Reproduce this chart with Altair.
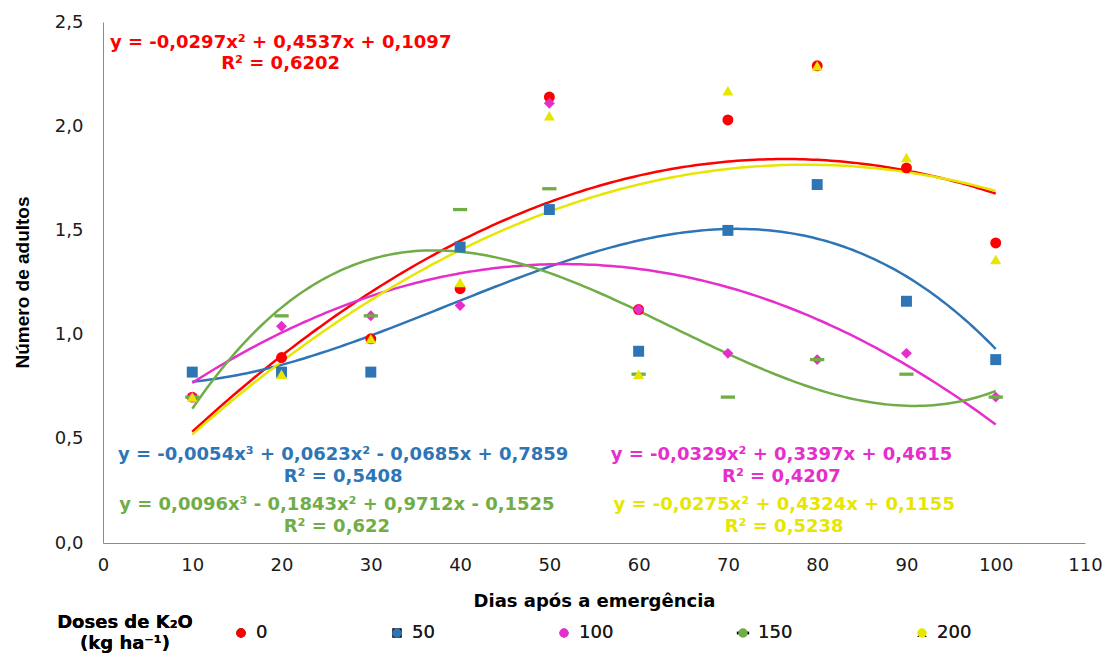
import altair as alt
import numpy as np
import pandas as pd

# Sampling days and potassium doses
dias = [10, 20, 30, 40, 50, 60, 70, 80, 90, 100]
doses = ["0", "50", "100", "150", "200"]

# Mean number of adults per dose
adultos_0 = [0.70, 0.89, 0.98, 1.22, 2.14, 1.12, 2.03, 2.29, 1.80, 1.44]
adultos_50 = [0.82, 0.82, 0.82, 1.42, 1.60, 0.92, 1.50, 1.72, 1.16, 0.88]
adultos_100 = [0.70, 1.04, 1.09, 1.14, 2.11, 1.12, 0.91, 0.88, 0.91, 0.70]
adultos_150 = [0.70, 1.09, 1.09, 1.60, 1.70, 0.81, 0.70, 0.88, 0.81, 0.70]
adultos_200 = [0.70, 0.81, 0.98, 1.25, 2.05, 0.81, 2.17, 2.29, 1.85, 1.36]

# Trendline coefficients (constant term first), x = sampling order 1..10
coef_0 = [0.1097, 0.4537, -0.0297]
coef_50 = [0.7859, -0.0685, 0.0623, -0.0054]
coef_100 = [0.4615, 0.3397, -0.0329]
coef_150 = [-0.1525, 0.9712, -0.1843, 0.0096]
coef_200 = [0.1155, 0.4324, -0.0275]

equacoes = [
    "y = -0,0297x² + 0,4537x + 0,1097",
    "y = -0,0054x³ + 0,0623x² - 0,0685x + 0,7859",
    "y = -0,0329x² + 0,3397x + 0,4615",
    "y = 0,0096x³ - 0,1843x² + 0,9712x - 0,1525",
    "y = -0,0275x² + 0,4324x + 0,1155",
]
r2 = ["R² = 0,6202", "R² = 0,5408", "R² = 0,4207", "R² = 0,622", "R² = 0,5238"]

cores = ["#FF0000", "#2E75B6", "#E52ECC", "#70AD47", "#E6E600"]
formas = [
    "circle",
    "square",
    "diamond",
    "M-1.3,-0.3L1.3,-0.3L1.3,0.3L-1.3,0.3Z",
    "triangle-up",
]

# Where each equation block sits (data coordinates: centre x, first and second line y)
pos_eq = [
    (19.9, 2.40, 2.30),
    (26.9, 0.42, 0.315),
    (76.0, 0.42, 0.315),
    (26.2, 0.18, 0.077),
    (76.3, 0.18, 0.077),
]

FONT = "DejaVu Sans"

series = [adultos_0, adultos_50, adultos_100, adultos_150, adultos_200]
coefs = [coef_0, coef_50, coef_100, coef_150, coef_200]

pontos = pd.DataFrame(
    [
        {"dias": d, "adultos": v, "dose": dose}
        for dose, vals in zip(doses, series)
        for d, v in zip(dias, vals)
    ]
)

t = np.linspace(1, 10, 181)
curvas = pd.concat(
    [
        pd.DataFrame(
            {
                "dias": 10 * t,
                "adultos": sum(c * t**i for i, c in enumerate(cf)),
                "curva": dose,
            }
        )
        for dose, cf in zip(doses, coefs)
    ]
)

x_enc = alt.X(
    "dias:Q",
    scale=alt.Scale(domain=[0, 110], nice=False),
    axis=alt.Axis(
        values=list(range(0, 111, 10)),
        title="Dias após a emergência",
        titleFont=FONT,
        titleFontSize=18,
        titleFontWeight="bold",
        titleColor="#000000",
        titleX=491,
        titleY=58,
        titleBaseline="middle",
        labelFont=FONT,
        labelFontSize=18,
        labelColor="#1a1a1a",
        labelPadding=13,
        labelFlush=False,
        labelOverlap=False,
        ticks=False,
        grid=False,
        domainColor="#8c8c8c",
    ),
)
y_enc = alt.Y(
    "adultos:Q",
    scale=alt.Scale(domain=[0, 2.5], nice=False),
    axis=alt.Axis(
        values=[0, 0.5, 1.0, 1.5, 2.0, 2.5],
        labelExpr="replace(format(datum.value, '.1f'), '.', ',')",
        title="Número de adultos",
        titleFont="Liberation Sans",
        titleFontSize=19,
        titleFontWeight="bold",
        titleColor="#000000",
        titleX=-81,
        titleY=260,
        titleBaseline="middle",
        titleAngle=270,
        labelFont=FONT,
        labelFontSize=18,
        labelColor="#1a1a1a",
        labelPadding=20,
        labelFlush=False,
        labelOverlap=False,
        ticks=False,
        grid=False,
        domainColor="#8c8c8c",
    ),
)

linhas = (
    alt.Chart(curvas)
    .mark_line(strokeWidth=2.5)
    .encode(
        x=x_enc,
        y=y_enc,
        color=alt.Color("curva:N", scale=alt.Scale(domain=doses, range=cores), legend=None),
    )
)

legenda = alt.Legend(
    title=["Doses de K₂O", "(kg ha⁻¹)"],
    orient="none",
    legendX=-46,
    legendY=602,
    direction="horizontal",
    titleOrient="left",
    titleAlign="center",
    titleFont=FONT,
    titleFontSize=18,
    titleFontWeight="bold",
    titleColor="#000000",
    titleLineHeight=21,
    titlePadding=-29,
    labelFont=FONT,
    labelFontSize=18,
    labelColor="#1a1a1a",
    labelOffset=6,
    symbolSize=90,
    symbolStrokeWidth=0,
    columnPadding=120,
)

marcadores = (
    alt.Chart(pontos)
    .mark_point(filled=True, opacity=1, size=120)
    .encode(
        x=x_enc,
        y=y_enc,
        color=alt.Color("dose:N", scale=alt.Scale(domain=doses, range=cores), legend=legenda),
        shape=alt.Shape("dose:N", scale=alt.Scale(domain=doses, range=formas), legend=legenda),
    )
)

textos = []
for eq, r, cor, (px, py1, py2) in zip(equacoes, r2, cores, pos_eq):
    df = pd.DataFrame({"texto": [eq, r], "dias": [px, px], "adultos": [py1, py2]})
    textos.append(
        alt.Chart(df)
        .mark_text(
            font=FONT,
            fontSize=18,
            fontWeight="bold",
            color=cor,
            align="center",
            baseline="middle",
        )
        .encode(x="dias:Q", y="adultos:Q", text="texto:N")
    )

chart = (
    alt.layer(linhas, marcadores, *textos)
    .resolve_scale(color="independent")
    .properties(
        width=982,
        height=521,
        autosize=alt.AutoSizeParams(type="none"),
        padding={"left": 103, "top": 22, "right": 20, "bottom": 112},
        background="#ffffff",
    )
    .configure_view(stroke=None)
)

chart.save("out.html", embed_options={"renderer": "svg", "actions": False})
